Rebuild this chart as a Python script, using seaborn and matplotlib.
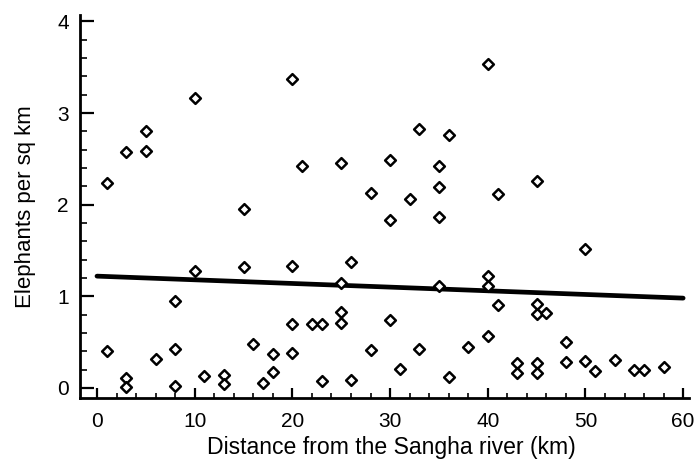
import pandas as pd
import matplotlib
matplotlib.use("Agg")
import matplotlib.pyplot as plt
from matplotlib.ticker import MultipleLocator
import seaborn as sns

# Elephant density vs distance from the river
distance_km = [1, 3, 5, 5, 10, 20, 15, 21, 25, 30, 35, 35, 28, 32, 30, 35, 33, 36, 40, 41,
               45, 50, 10, 15, 20, 26, 25, 35, 40, 40, 8, 20, 22, 23, 25, 25, 30, 41, 45, 45,
               46, 40, 48, 1, 6, 8, 16, 18, 20, 28, 33, 38, 31, 23, 26, 36, 3, 3, 8, 11,
               13, 13, 17, 18, 43, 43, 45, 45, 48, 50, 51, 53, 55, 56, 58]
elephants_sqkm = [2.24, 2.57, 2.59, 2.80, 3.16, 3.37, 1.95, 2.42, 2.46, 2.49, 2.42, 2.19, 2.13, 2.06, 1.83, 1.86, 2.83, 2.76, 3.54, 2.12,
                  2.26, 1.52, 1.28, 1.32, 1.33, 1.37, 1.15, 1.11, 1.22, 1.11, 0.95, 0.70, 0.70, 0.70, 0.83, 0.71, 0.74, 0.90, 0.92, 0.81,
                  0.82, 0.57, 0.50, 0.40, 0.32, 0.43, 0.48, 0.37, 0.38, 0.41, 0.43, 0.45, 0.21, 0.08, 0.09, 0.12, 0.11, 0.01, 0.02, 0.13,
                  0.14, 0.04, 0.05, 0.17, 0.27, 0.16, 0.27, 0.16, 0.28, 0.29, 0.19, 0.31, 0.20, 0.20, 0.23]

# fitted trend line end points
fit_x = [0, 60]
fit_y = [1.22, 0.98]

df = pd.DataFrame({"distance": distance_km, "density": elephants_sqkm})
fit = pd.DataFrame({"distance": fit_x, "density": fit_y})

sns.set_style("ticks")
plt.rcParams['font.family'] = ['Liberation Sans', 'DejaVu Sans']
plt.rcParams['text.color'] = 'black'
plt.rcParams['axes.labelcolor'] = 'black'

fig = plt.figure(figsize=(6.99, 4.63), dpi=100)
ax = fig.add_axes([80 / 699, 1 - 398 / 463, 609 / 699, 383 / 463])

sns.lineplot(data=fit, x="distance", y="density", ax=ax, color="black", linewidth=3.4)
sns.scatterplot(data=df, x="distance", y="density", ax=ax, marker="D", s=30,
                facecolor="white", edgecolor="black", linewidth=1.8, zorder=3)

ax.set_xlim(-1.74, 60.6)
ax.set_ylim(-0.11, 4.07)
ax.xaxis.set_major_locator(MultipleLocator(10))
ax.xaxis.set_minor_locator(MultipleLocator(2))
ax.yaxis.set_major_locator(MultipleLocator(1))
ax.yaxis.set_minor_locator(MultipleLocator(0.2))

ax.tick_params(axis="y", which="major", direction="in", length=10, width=1.6, labelsize=15, pad=8, colors="black")
ax.tick_params(axis="y", which="minor", direction="in", length=5, width=1.2, colors="black")
ax.tick_params(axis="x", which="major", direction="in", length=7, width=1.6, labelsize=15, pad=10, colors="black")
ax.tick_params(axis="x", which="minor", direction="in", length=3.5, width=1.2, colors="black")

sns.despine(ax=ax)
for side in ["left", "bottom"]:
    ax.spines[side].set_linewidth(2)
    ax.spines[side].set_color("black")

ax.set_xlabel("Distance from the Sangha river (km)", fontsize=16.6, color="black")
ax.set_ylabel("Elephants per sq km", fontsize=16, color="black")
ax.xaxis.set_label_coords(0.512, -0.1)
ax.yaxis.set_label_coords(-0.073, 0.5)

fig.savefig("out.png", dpi=100, facecolor="white")
